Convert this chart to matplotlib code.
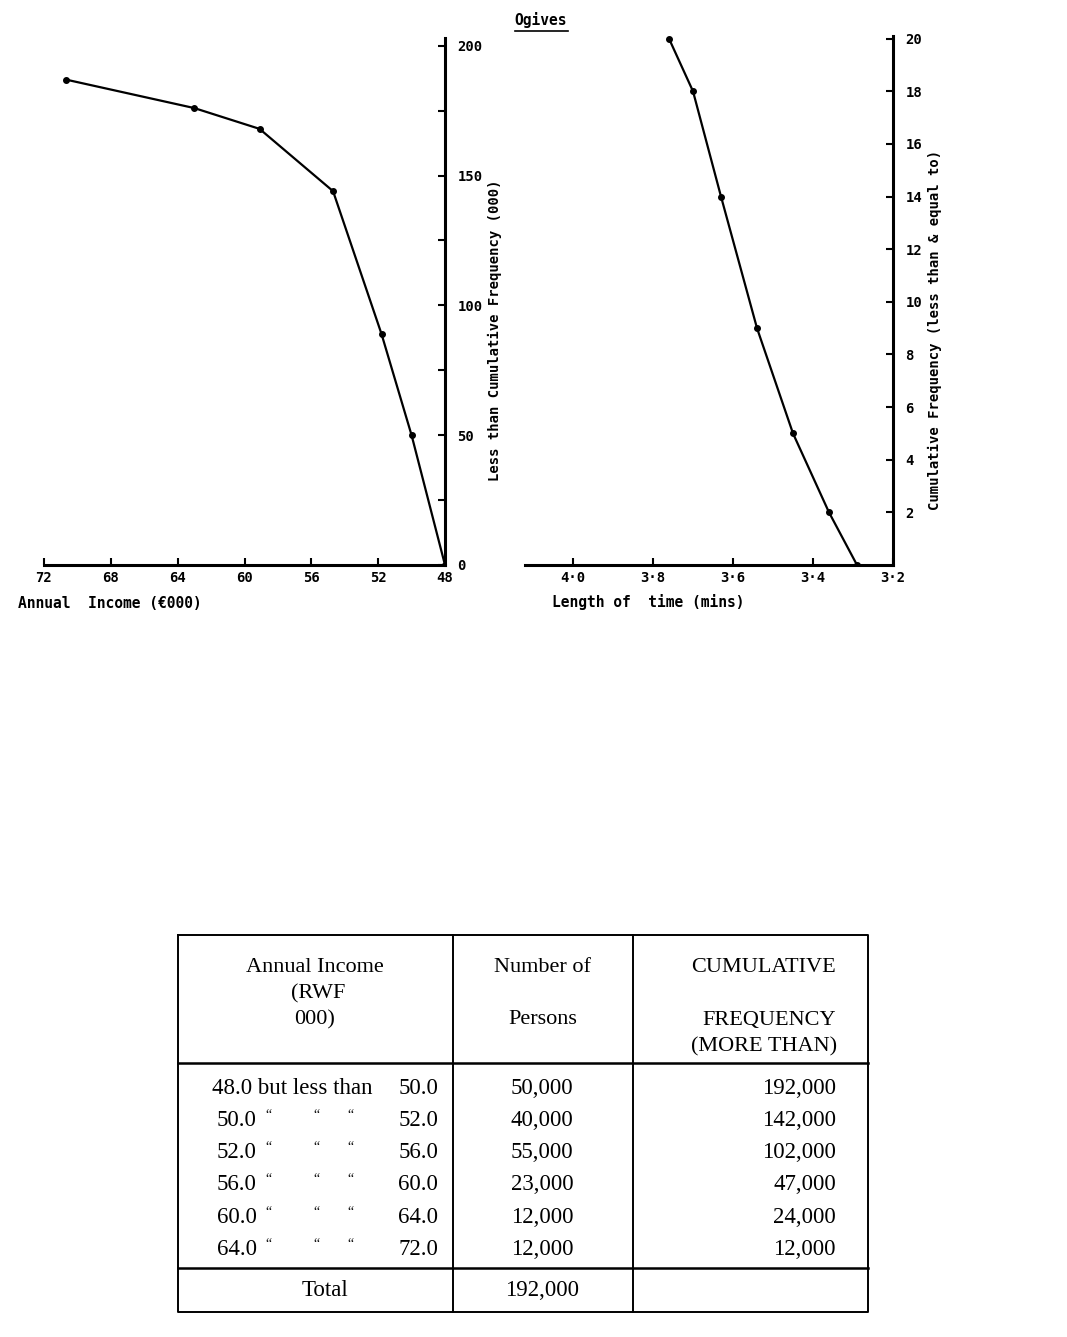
import numpy as np
import matplotlib.pyplot as plt
from matplotlib.ticker import MultipleLocator, FixedLocator, FixedFormatter

# ogive 1: annual income, less-than cumulative frequency (000)
income_x = [48, 50, 51.8, 54.7, 59.1, 63.0, 70.7]
income_cum = [0, 50, 89, 144, 168, 176, 187]

# ogive 2: length of time (mins), cumulative frequency
time_x = [3.29, 3.36, 3.45, 3.54, 3.63, 3.70, 3.76]
time_cum = [0, 2, 5, 9, 14, 18, 20]
time_ticks = [3.2, 3.4, 3.6, 3.8, 4.0]
time_tick_labels = ["3·2", "3·4", "3·6", "3·8", "4·0"]

# table
lower = ["48.0", "50.0", "52.0", "56.0", "60.0", "64.0"]
upper = ["50.0", "52.0", "56.0", "60.0", "64.0", "72.0"]
persons = ["50,000", "40,000", "55,000", "23,000", "12,000", "12,000"]
cum_more = ["192,000", "142,000", "102,000", "47,000", "24,000", "12,000"]
total_persons = "192,000"

W, H = 1067, 1337
mono = "DejaVu Sans Mono"
serif = "Liberation Serif"

fig = plt.figure(figsize=(W / 100, H / 100), dpi=100)


def frac(x0, y0, x1, y1):
    # pixel box -> figure fraction [left, bottom, width, height]
    return [x0 / W, 1 - y1 / H, (x1 - x0) / W, (y1 - y0) / H]


def style_axes(ax):
    for s in ["top", "left"]:
        ax.spines[s].set_visible(False)
    for s in ["bottom", "right"]:
        ax.spines[s].set_linewidth(2.2)
    ax.yaxis.tick_right()
    ax.tick_params(axis="both", which="both", direction="in", width=1.5,
                   labelsize=10, colors="black")
    ax.tick_params(which="major", length=5)
    ax.tick_params(which="minor", length=5)
    ax.tick_params(axis="y", pad=9)
    ax.tick_params(axis="x", pad=4)
    for lab in ax.get_xticklabels() + ax.get_yticklabels():
        lab.set_fontfamily(mono)
        lab.set_fontweight("bold")
    ax.patch.set_alpha(0)


# --- left ogive (x axis runs right to left) ---
ax1 = fig.add_axes(frac(44, 38, 445, 565))
ax1.plot(income_x, income_cum, "k-", lw=1.6, marker="o", ms=4)
ax1.set_xlim(72, 48)
ax1.set_ylim(0, 203)
ax1.xaxis.set_major_locator(MultipleLocator(4))
ax1.yaxis.set_major_locator(MultipleLocator(50))
ax1.yaxis.set_minor_locator(MultipleLocator(25))
style_axes(ax1)

# --- right ogive ---
ax2 = fig.add_axes(frac(525, 36, 893, 565))
ax2.plot(time_x, time_cum, "k-", lw=1.6, marker="o", ms=4)
ax2.set_xlim(4.12, 3.2)
ax2.set_ylim(0, 20.1)
ax2.xaxis.set_major_locator(FixedLocator(time_ticks))
ax2.xaxis.set_major_formatter(FixedFormatter(time_tick_labels))
ax2.yaxis.set_major_locator(FixedLocator(np.arange(2, 21, 2)))
style_axes(ax2)

# overlay in pixel coords for labels and the table
ov = fig.add_axes([0, 0, 1, 1], zorder=-1)
ov.set_xlim(0, W)
ov.set_ylim(H, 0)
ov.axis("off")

ov.text(541, 20, "Ogives", ha="center", va="center", fontsize=10.5,
        family=mono, fontweight="bold")
ov.plot([515, 568], [31, 31], color="black", lw=1.2)

ov.text(202, 603, "Annual  Income (€000)", ha="right", va="center",
        fontsize=10.5, family=mono, fontweight="bold")
ov.text(648, 602, "Length of  time (mins)", ha="center", va="center",
        fontsize=10.5, family=mono, fontweight="bold")
ov.text(495, 330, "Less than Cumulative Frequency (000)", rotation=90,
        ha="center", va="center", fontsize=10, family=mono, fontweight="bold")
ov.text(935, 330, "Cumulative Frequency (less than & equal to)", rotation=90,
        ha="center", va="center", fontsize=10, family=mono, fontweight="bold")

# table frame
tx0, tx1, ty0, ty1 = 178, 868, 935, 1312
lw = 1.4
ov.plot([tx0, tx1, tx1, tx0, tx0], [ty0, ty0, ty1, ty1, ty0], color="black", lw=lw)
ov.plot([tx0, tx1], [1063, 1063], color="black", lw=1.8)
ov.plot([tx0, tx1], [1268, 1268], color="black", lw=1.8)
ov.plot([453, 453], [ty0, ty1], color="black", lw=lw)
ov.plot([633, 633], [ty0, ty1], color="black", lw=lw)

hs = 16
ov.text(315, 968, "Annual Income", ha="center", va="center", fontsize=hs, family=serif)
ov.text(318, 994, "(RWF", ha="center", va="center", fontsize=hs, family=serif)
ov.text(315, 1020, "000)", ha="center", va="center", fontsize=hs, family=serif)
ov.text(543, 968, "Number of", ha="center", va="center", fontsize=hs, family=serif)
ov.text(543, 1020, "Persons", ha="center", va="center", fontsize=hs, family=serif)
ov.text(836, 968, "CUMULATIVE", ha="right", va="center", fontsize=hs, family=serif)
ov.text(836, 1020, "FREQUENCY", ha="right", va="center", fontsize=hs, family=serif)
ov.text(837, 1047, "(MORE THAN)", ha="right", va="center", fontsize=hs, family=serif)

ds = 16.5
row_y = 1088
row_h = 32.3
for i in range(len(lower)):
    y = row_y + i * row_h
    if i == 0:
        ov.text(212, y, lower[i] + " but less than", ha="left", va="center",
                fontsize=ds, family=serif)
    else:
        ov.text(217, y, lower[i], ha="left", va="center", fontsize=ds, family=serif)
        for qx in [268, 316, 350]:
            ov.text(qx, y - 5, "\u201c", ha="center", va="center",
                    fontsize=10, family=serif)
    ov.text(438, y, upper[i], ha="right", va="center", fontsize=ds, family=serif)
    ov.text(542, y, persons[i], ha="center", va="center", fontsize=ds, family=serif)
    ov.text(836, y, cum_more[i], ha="right", va="center", fontsize=ds, family=serif)

ov.text(325, 1290, "Total", ha="center", va="center", fontsize=ds, family=serif)
ov.text(542, 1290, total_persons, ha="center", va="center", fontsize=ds, family=serif)

fig.savefig("out.png", dpi=100)
